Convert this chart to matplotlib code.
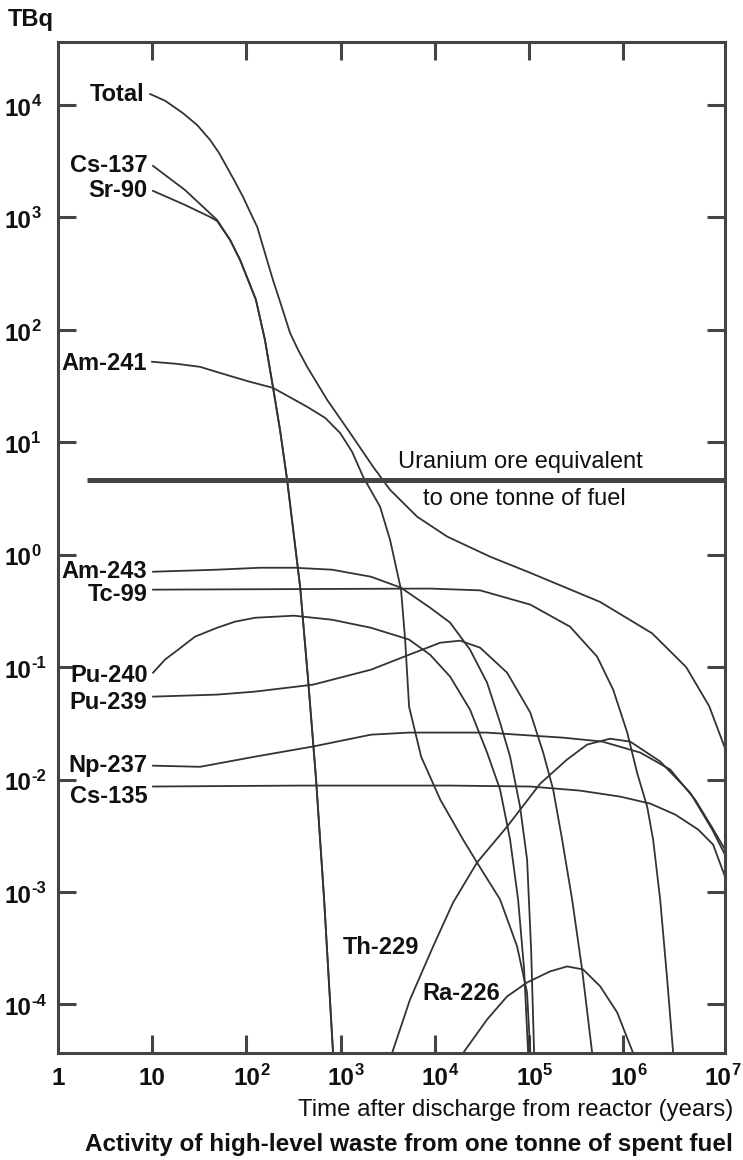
import matplotlib
matplotlib.use('Agg')
import matplotlib.pyplot as plt
from matplotlib.transforms import blended_transform_factory

plt.rcParams['font.family'] = ['Liberation Sans', 'DejaVu Sans']

# 数据 (years, TBq)
total_t = [9.5, 13.7, 21, 29.9, 41, 51.2, 62, 75.7, 92, 109, 130, 157, 191, 233, 290, 353, 440,
           717, 1260, 2210, 3340, 6470, 1.35e4, 3.86e4, 1.03e5, 5.68e5, 2.02e6, 4.65e6, 8.15e6, 1.2e7]
total_a = [1.25e4, 1.09e4, 8.5e3, 6.64e3, 4.9e3, 3.74e3, 2.8e3, 2.07e3, 1.52e3, 1.12e3, 824, 483,
           278, 167, 94, 66.4, 47, 23.9, 12.1, 6.05, 3.78, 2.18, 1.45, 0.96, 0.69, 0.38, 0.20,
           0.10, 0.045, 0.019]

cs137_t = [10.2, 22.3, 48.7, 67, 85.5, 104, 126, 157, 191, 227, 270, 371, 451, 548, 667, 830]
cs137_a = [2870, 1750, 950, 631, 419, 278, 185, 81.5, 31.1, 12.9, 4.64, 0.52, 0.0774, 0.01,
           8.6e-4, 3.7e-5]

sr90_t = [10.2, 22.3, 41, 48.7, 67, 85.5, 104, 126, 157, 191, 227, 270, 371, 451, 548, 667, 830]
sr90_a = [1720, 1290, 1010, 930, 631, 419, 278, 185, 81.5, 31.1, 12.9, 4.64, 0.52, 0.0774, 0.01,
          8.6e-4, 3.7e-5]

am241_t = [9.95, 17.9, 32, 72, 109, 191, 440, 683, 986, 1321, 1730, 2620, 3340, 4370, 4830, 5320,
           7140, 1.14e4, 1.99e4, 2.8e4, 4.92e4, 7.46e4, 9.5e4, 1.03e5]
am241_a = [52, 49.9, 46.9, 38.2, 34.5, 30.5, 20.7, 16.5, 12.1, 8.24, 4.94, 2.67, 1.36, 0.489,
           0.176, 0.0446, 0.016, 6.64e-3, 2.93e-3, 1.83e-3, 8.58e-4, 3.28e-4, 1.28e-4, 3.7e-5]

am243_t = [10.2, 48.7, 139, 320, 811, 2100, 4370, 8890, 1.45e4, 2.36e4, 3.58e4, 4.92e4,
           6.28e4, 8.01e4, 9.52e4, 1.05e5, 1.13e5]
am243_a = [0.706, 0.736, 0.766, 0.766, 0.736, 0.637, 0.509, 0.338, 0.249, 0.143, 0.0728, 0.0321,
           0.016, 5.75e-3, 1.94e-3, 3.08e-4, 3.7e-5]

tc99_t = [10.2, 371, 8890, 3.02e4, 1.03e5, 2.72e5, 5.27e5, 7.8e5, 1.1e6, 1.4e6, 1.79e6,
          2.07e6, 2.46e6, 2.92e6, 3.38e6]
tc99_a = [0.489, 0.495, 0.5, 0.482, 0.36, 0.229, 0.124, 0.0631, 0.0262, 0.0115, 5.75e-3,
          2.93e-3, 8.58e-4, 1.67e-4, 3.7e-5]

pu240_t = [10.2, 13.7, 18.8, 28.5, 48.7, 75.7, 123, 320, 811, 2100, 5320, 8890, 1.45e4, 2.36e4,
           3.58e4, 4.92e4, 6.28e4, 7.64e4, 8.85e4, 9.76e4]
pu240_a = [0.0893, 0.117, 0.143, 0.187, 0.224, 0.254, 0.275, 0.287, 0.264, 0.224, 0.176, 0.129,
           0.0824, 0.0419, 0.0174, 8.15e-3, 2.93e-3, 8.58e-4, 2.05e-4, 3.7e-5]

pu239_t = [10.2, 48.7, 123, 509, 2100, 5320, 1.14e4, 1.85e4, 3.02e4, 5.84e4, 1.03e5, 1.41e5,
           1.8e5, 2.24e5, 2.86e5, 3.65e5, 4.67e5]
pu239_a = [0.0547, 0.057, 0.0606, 0.0699, 0.095, 0.129, 0.165, 0.172, 0.149, 0.0893, 0.0394, 0.0174,
           8.15e-3, 2.93e-3, 8.58e-4, 2.05e-4, 3.7e-5]

np237_t = [10.2, 32.2, 123, 509, 2100, 5320, 3.5e4, 2.3e5, 5.96e5, 1.51e6, 3.14e6, 5.78e6,
           8.77e6, 1.2e7]
np237_a = [0.0133, 0.013, 0.016, 0.0197, 0.0251, 0.0262, 0.0262, 0.0236, 0.0218, 0.0174, 0.0123,
           6.64e-3, 3.74e-3, 2.39e-3]

cs135_t = [10.2, 371, 1.45e4, 1.03e5, 3.48e5, 9.25e5, 1.93e6, 3.55e6, 6.22e6, 8.98e6, 1.2e7]
cs135_a = [8.68e-3, 8.85e-3, 8.85e-3, 8.68e-3, 7.98e-3, 7.06e-3, 6.12e-3, 4.89e-3, 3.6e-3,
           2.64e-3, 1.37e-3]

th229_t = [3510, 5450, 9570, 1.56e4, 2.8e4, 5.84e4, 1.31e5, 2.53e5, 4.13e5, 7.24e5, 1.18e6,
           2.46e6, 5.12e6, 8.77e6, 1.2e7]
th229_a = [3.7e-5, 1.11e-4, 3.28e-4, 8.07e-4, 1.83e-3, 3.82e-3, 9.2e-3, 0.0151, 0.0205, 0.0231,
           0.0218, 0.0145, 7.66e-3, 3.6e-3, 2.15e-3]

ra226_t = [1.99e4, 3.58e4, 5.84e4, 9.52e4, 1.67e5, 2.53e5, 3.74e5, 5.68e5, 8.6e5, 1.27e6]
ra226_a = [3.7e-5, 7.36e-5, 1.18e-4, 1.57e-4, 1.97e-4, 2.18e-4, 2.05e-4, 1.45e-4, 8.5e-5, 3.7e-5]

uranium_t = [2.03, 1.2e7]
uranium_a = [4.64, 4.64]

# 标签 (name, series, vertical offset of the label in points)
left_labels = ['Total', 'Cs-137', 'Sr-90', 'Am-241', 'Am-243', 'Tc-99',
               'Pu-240', 'Pu-239', 'Np-237', 'Cs-135']
left_series = [(total_t, total_a), (cs137_t, cs137_a), (sr90_t, sr90_a), (am241_t, am241_a),
               (am243_t, am243_a), (tc99_t, tc99_a), (pu240_t, pu240_a), (pu239_t, pu239_a),
               (np237_t, np237_a), (cs135_t, cs135_a)]
left_dy = [0, 0, 0, -1, 0, -3.5, -2, -4, 0, -7]

# 刻度标签: base and exponent
x_ticks = [1, 10, 1e2, 1e3, 1e4, 1e5, 1e6, 1e7]
x_tick_base = ['1', '10', '10', '10', '10', '10', '10', '10']
x_tick_exp = ['', '', '2', '3', '4', '5', '6', '7']
y_ticks = [1e-4, 1e-3, 1e-2, 1e-1, 1e0, 1e1, 1e2, 1e3, 1e4]
y_tick_base = ['10'] * 9
y_tick_exp = ['-4', '-3', '-2', '-1', '0', '1', '2', '3', '4']

LINE = '#333333'
AXC = '#444444'
TXT = '#111111'
FS = 17
FS_TICK = 17.5
FS_EXP = 12

fig = plt.figure(figsize=(7.43, 11.6), dpi=100)
ax = fig.add_axes([0.0781, 0.0922, 0.8977, 0.8716])
ax.set_xscale('log')
ax.set_yscale('log')
ax.set_xlim(1, 1.2e7)
ax.set_ylim(3.7e-5, 3.63e4)

# 曲线
for (t, a) in left_series:
    ax.plot(t, a, color=LINE, lw=1.3, solid_joinstyle='round')
ax.plot(th229_t, th229_a, color=LINE, lw=1.3, solid_joinstyle='round')
ax.plot(ra226_t, ra226_a, color=LINE, lw=1.3, solid_joinstyle='round')
ax.plot(uranium_t, uranium_a, color=AXC, lw=3.6, solid_capstyle='butt')

# 左侧标签
for name, (t, a), dy in zip(left_labels, left_series, left_dy):
    ax.annotate(name, (t[0], a[0]), xytext=(-4, dy), textcoords='offset points',
                ha='right', va='center', fontsize=FS, fontweight='bold', color=TXT)

ax.text(2690, 3.2e-4, 'Th-229', ha='center', va='center', fontsize=FS,
        fontweight='bold', color=TXT)
ax.text(1.9e4, 1.25e-4, 'Ra-226', ha='center', va='center', fontsize=FS,
        fontweight='bold', color=TXT)

ax.annotate('Uranium ore equivalent', (8e4, uranium_a[0]), xytext=(0, 5),
            textcoords='offset points', ha='center', va='bottom', fontsize=FS, color=TXT)
ax.annotate('to one tonne of fuel', (8.8e4, uranium_a[0]), xytext=(0, -6),
            textcoords='offset points', ha='center', va='top', fontsize=FS, color=TXT)

# 坐标轴
ax.xaxis.set_major_locator(matplotlib.ticker.FixedLocator(x_ticks))
ax.yaxis.set_major_locator(matplotlib.ticker.FixedLocator(y_ticks))
ax.xaxis.set_major_formatter(matplotlib.ticker.NullFormatter())
ax.yaxis.set_major_formatter(matplotlib.ticker.NullFormatter())
ax.minorticks_off()
ax.tick_params(which='major', direction='in', length=13, width=2.2, color=AXC,
               top=True, right=True)
# no tick marks in the corners
for i in [0, len(x_ticks) - 1]:
    tk = ax.xaxis.get_major_ticks()[i]
    tk.tick1line.set_visible(False)
    tk.tick2line.set_visible(False)
for sp in ax.spines.values():
    sp.set_linewidth(2.2)
    sp.set_color(AXC)

# tick labels drawn as "10" plus a raised exponent
ytr = blended_transform_factory(fig.transFigure, ax.transData)
for val, base, ex in zip(y_ticks, y_tick_base, y_tick_exp):
    ax.annotate(base, (5 / 743, val), xycoords=ytr, xytext=(0, -3), textcoords='offset points',
                ha='left', va='center', fontsize=FS_TICK, fontweight='bold', color=TXT,
                annotation_clip=False)
    ax.annotate(ex, (31.5 / 743, val), xycoords=ytr, xytext=(0, 2.5), textcoords='offset points',
                ha='left', va='center', fontsize=FS_EXP, fontweight='bold', color=TXT,
                annotation_clip=False)

xtr = blended_transform_factory(ax.transData, ax.transAxes)
for val, base, ex in zip(x_ticks, x_tick_base, x_tick_exp):
    if ex:
        ax.annotate(base, (val, 0), xycoords=xtr, xytext=(10, -18), textcoords='offset points',
                    ha='right', va='center', fontsize=FS_TICK, fontweight='bold', color=TXT,
                    annotation_clip=False)
        ax.annotate(ex, (val, 0), xycoords=xtr, xytext=(10, -12.5), textcoords='offset points',
                    ha='left', va='center', fontsize=FS_EXP, fontweight='bold', color=TXT,
                    annotation_clip=False)
    else:
        ax.annotate(base, (val, 0), xycoords=xtr, xytext=(0, -18), textcoords='offset points',
                    ha='center', va='center', fontsize=FS_TICK, fontweight='bold', color=TXT,
                    annotation_clip=False)

fig.text(0.011, 0.983, 'TBq', ha='left', va='center', fontsize=FS, fontweight='bold', color=TXT)
fig.text(0.987, 0.043, 'Time after discharge from reactor (years)', ha='right', va='center',
         fontsize=FS + 0.3, color=TXT)
fig.text(0.987, 0.013, 'Activity of high-level waste from one tonne of spent fuel', ha='right',
         va='center', fontsize=FS + 0.5, fontweight='bold', color=TXT)

fig.savefig('out.png', dpi=100)
